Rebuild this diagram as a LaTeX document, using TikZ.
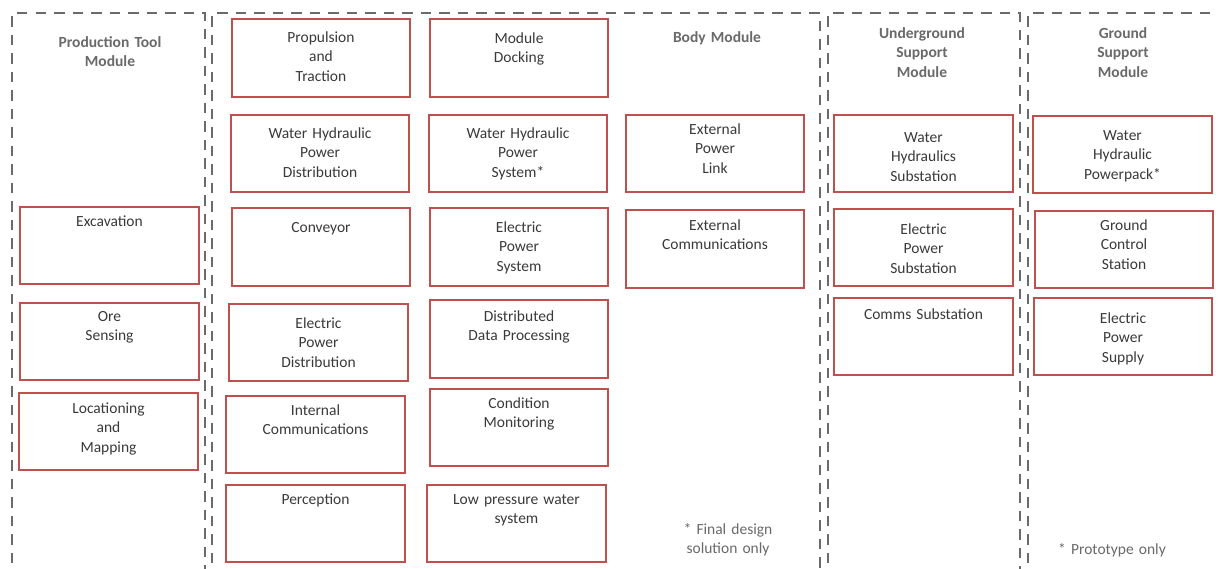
\documentclass[tikz,border=0pt]{standalone}
\usepackage{fontspec}
\setmainfont{Carlito}
\usetikzlibrary{fit}
\definecolor{boxred}{HTML}{C0504D}
\definecolor{framegray}{HTML}{6B6B6B}
\definecolor{bodytxt}{HTML}{3A3A3A}
\definecolor{headtxt}{HTML}{6A6A6A}
\tikzset{
  sysframe/.style={draw=boxred, line width=2.4pt, inner sep=0pt, fill=none},
  lbl/.style={text=bodytxt, font=\fontsize{15.5}{19.5}\selectfont, text width=176pt,
              align=center, inner sep=0pt, anchor=base},
  head/.style={text=headtxt, font=\fontsize{15.5}{19.5}\selectfont\bfseries, text width=180pt,
               align=center, inner sep=0pt, anchor=base},
  note/.style={text=headtxt, font=\fontsize{15.5}{19.5}\selectfont, text width=160pt,
               align=center, inner sep=0pt, anchor=base},
  modframe/.style={draw=framegray, line width=2.3pt, dash pattern=on 10.5pt off 8pt},
}
% \sysbox{name}{x1}{y1}{x2}{y2}{first baseline}{text}
\newcommand\sysbox[7]{%
  \path (#2,#3) coordinate (#1-nw) (#4,#5) coordinate (#1-se);
  \node[sysframe, fit=(#1-nw)(#1-se)] (#1) {};
  \node[lbl] (#1-t) at ({(#2+#4)/2},#6) {#7};
}
\begin{document}
\begin{tikzpicture}[x=1pt,y=-1pt]
\useasboundingbox[fill=white] (0,0) rectangle (1218,568);

% module frames (open towards the bottom edge)
\draw[modframe] (12,600) -- (12,13) -- (205,13) -- (205,600);
\draw[modframe] (212,600) -- (212,13) -- (820,13) -- (820,600);
\draw[modframe] (828,600) -- (828,13) -- (1020,13) -- (1020,600);
\draw[modframe] (1028,600) -- (1028,13) -- (1226,13) -- (1226,600);

% module titles
\node[head] (hprod) at (110,47) {Production Tool\\Module};
\node[head] (hbody) at (717,42) {Body Module};
\node[head] (hug) at (922,38) {Underground\\Support\\Module};
\node[head] (hgs) at (1123,38) {Ground\\Support\\Module};

% production tool module
\sysbox{exc}{20}{207}{199}{284}{226}{Excavation}
\sysbox{ore}{20}{303}{199}{380}{321}{Ore\\Sensing}
\sysbox{loc}{19}{393}{198}{470}{413}{Locationing\\and\\Mapping}

% body module, first column
\sysbox{prop}{232}{19}{410}{97}{42}{Propulsion\\and\\Traction}
\sysbox{whpd}{231}{115}{409}{192}{138}{Water Hydraulic\\Power\\Distribution}
\sysbox{conv}{232}{208}{410}{286}{232}{Conveyor}
\sysbox{epd}{229}{304}{408}{381}{328}{Electric\\Power\\Distribution}
\sysbox{ic}{226}{396}{405}{473}{415}{Internal\\Communications}
\sysbox{perc}{226}{485}{405}{562}{504}{Perception}

% body module, second column
\sysbox{dock}{430}{19}{608}{97}{43}{Module\\Docking}
\sysbox{whps}{429}{115}{607}{192}{138}{Water Hydraulic\\Power\\System*}
\sysbox{eps}{430}{208}{608}{286}{232}{Electric\\Power\\System}
\sysbox{ddp}{430}{300}{608}{378}{321}{Distributed\\Data Processing}
\sysbox{cm}{430}{389}{608}{466}{408}{Condition\\Monitoring}
\sysbox{lpw}{427}{485}{606}{562}{504}{Low pressure water\\system}

% body module, third column
\sysbox{epl}{626}{115}{804}{192}{134}{External\\Power\\Link}
\sysbox{ec}{626}{210}{804}{288}{230}{External\\Communications}
\node[note] (nfinal) at (728,534) {* Final design\\solution only};

% underground support module
\sysbox{whs}{834}{115}{1013}{192}{142}{Water\\Hydraulics\\Substation}
\sysbox{eps2}{834}{209}{1013}{286}{234}{Electric\\Power\\Substation}
\sysbox{cs}{834}{298}{1013}{375}{319}{Comms Substation}

% ground support module
\sysbox{whpp}{1033}{116}{1212}{193}{140}{Water\\Hydraulic\\Powerpack*}
\sysbox{gcs}{1035}{211}{1213}{288}{230}{Ground\\Control\\Station}
\sysbox{esup}{1034}{298}{1212}{375}{323}{Electric\\Power\\Supply}
\node[note] (nproto) at (1112,554) {* Prototype only};
\end{tikzpicture}
\end{document}
